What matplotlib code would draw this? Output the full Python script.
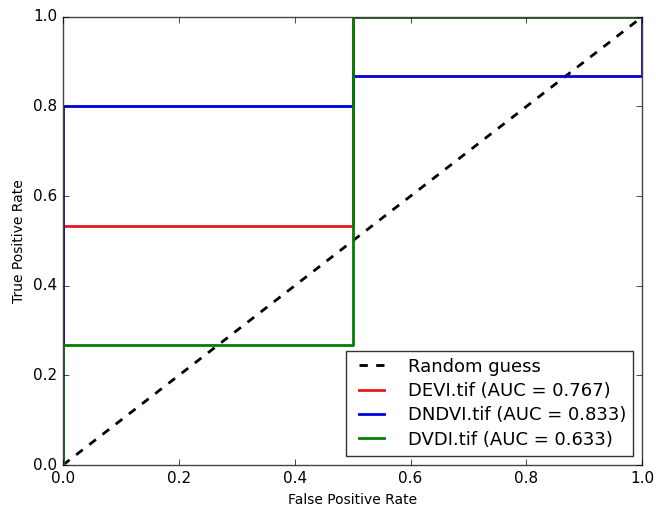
import matplotlib
matplotlib.use("Agg")
import matplotlib.pyplot as plt

plt.style.use("classic")

# ROC step curves
devi_fpr = [0.0, 0.0, 0.5, 0.5, 1.0]
devi_tpr = [0.0, 0.533, 0.533, 1.0, 1.0]
dndvi_fpr = [0.0, 0.0, 0.5, 0.5, 1.0, 1.0]
dndvi_tpr = [0.0, 0.8, 0.8, 0.867, 0.867, 1.0]
dvdi_fpr = [0.0, 0.0, 0.5, 0.5, 1.0]
dvdi_tpr = [0.0, 0.267, 0.267, 1.0, 1.0]
labels = ["DEVI.tif (AUC = 0.767)", "DNDVI.tif (AUC = 0.833)", "DVDI.tif (AUC = 0.633)"]

fig = plt.figure(figsize=(6.56, 5.11), dpi=100, facecolor="white")
ax = fig.add_axes([0.096, 0.090, 0.883, 0.877])
ax.plot([0, 1], [0, 1], "k--", lw=2, label="Random guess")
ax.plot(devi_fpr, devi_tpr, color="#e41a1c", lw=2, label=labels[0])
ax.plot(dndvi_fpr, dndvi_tpr, color="#0000dd", lw=2, label=labels[1])
ax.plot(dvdi_fpr, dvdi_tpr, color="#008000", lw=2, label=labels[2])

ax.set_xlim(0, 1)
ax.set_ylim(0, 1)
ax.set_xticks([0, 0.2, 0.4, 0.6, 0.8, 1.0])
ax.set_yticks([0, 0.2, 0.4, 0.6, 0.8, 1.0])
ax.tick_params(labelsize=11)
ax.set_xlabel("False Positive Rate", fontsize=10)
ax.set_ylabel("True Positive Rate", fontsize=10)
for s in ax.spines.values():
    s.set_color("#444444")

leg = ax.legend(loc="lower right", fontsize=13, borderaxespad=0.5,
                handlelength=2.0, handletextpad=1.0, labelspacing=0.35)
leg.get_frame().set_edgecolor("#333333")

fig.savefig("out.png", dpi=100, facecolor="white")
